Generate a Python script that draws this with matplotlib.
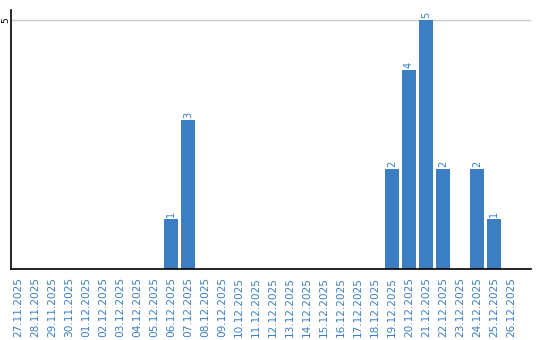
import matplotlib
matplotlib.use("Agg")
import matplotlib.pyplot as plt

dates = ["27.11.2025", "28.11.2025", "29.11.2025", "30.11.2025", "01.12.2025",
         "02.12.2025", "03.12.2025", "04.12.2025", "05.12.2025", "06.12.2025",
         "07.12.2025", "08.12.2025", "09.12.2025", "10.12.2025", "11.12.2025",
         "12.12.2025", "13.12.2025", "14.12.2025", "15.12.2025", "16.12.2025",
         "17.12.2025", "18.12.2025", "19.12.2025", "20.12.2025", "21.12.2025",
         "22.12.2025", "23.12.2025", "24.12.2025", "25.12.2025", "26.12.2025"]
counts = [0, 0, 0, 0, 0, 0, 0, 0, 0, 1,
          3, 0, 0, 0, 0, 0, 0, 0, 0, 0,
          0, 0, 2, 4, 5, 2, 0, 2, 1, 0]

blue = "#3b7ec2"

fig = plt.figure(figsize=(5.4, 3.4), dpi=100)
ax = fig.add_axes([11/540, 71/340, 520/540, 259/340])

x = list(range(len(dates)))
ax.bar(x, counts, width=0.82, color=blue, zorder=2)
for xi, c in zip(x, counts):
    if c > 0:
        ax.text(xi, c + 0.04, str(c), rotation=90, ha="center", va="bottom",
                fontsize=7, color=blue)

ax.set_xlim(-0.41, 30.18)
ax.set_ylim(0, 5.2)
ax.set_yticks([5])
ax.set_yticklabels(["5"], rotation=90, va="center", fontsize=6.5)
ax.yaxis.grid(True, color="#c8c8c8", linewidth=1, zorder=0)
ax.tick_params(axis="y", length=0, pad=0.5)

ax.set_xticks(x)
ax.set_xticklabels(dates, rotation=90, fontsize=7.6, color=blue, va="top")
ax.tick_params(axis="x", length=0, pad=6)

for s in ["top", "right"]:
    ax.spines[s].set_visible(False)
ax.spines["left"].set_linewidth(1.2)
ax.spines["bottom"].set_linewidth(1.2)

fig.savefig("out.png", dpi=100)
